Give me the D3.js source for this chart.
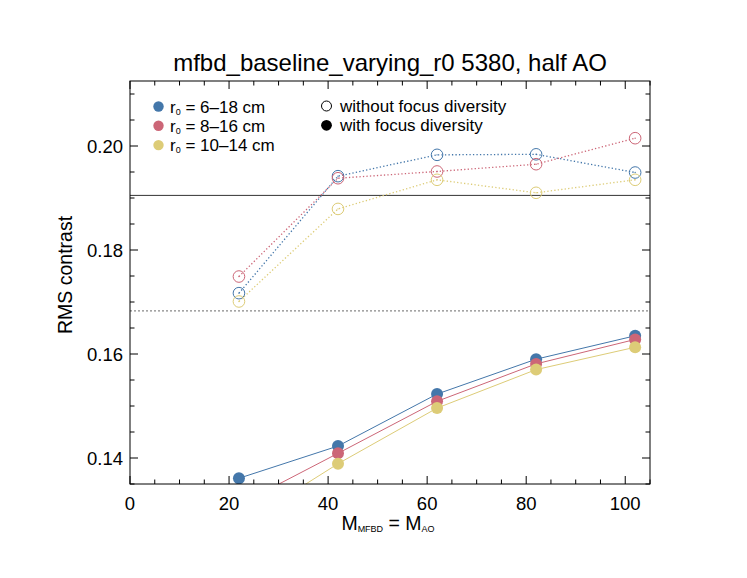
<!DOCTYPE html>
<html><head><meta charset="utf-8">
<script src="https://cdn.jsdelivr.net/npm/d3@7"></script>
<style>body{margin:0;background:#fff}svg{display:block}text{font-family:"Liberation Sans",Arial,sans-serif}</style>
</head><body>
<svg id="c" width="747" height="578"></svg>
<script>
const xValues = [22, 42, 62, 82, 102];
const seriesNames = ["6–18 cm", "8–16 cm", "10–14 cm"];
const seriesColors = ["#4477AA", "#CC6677", "#DDCC77"];
const withoutFD_6_18 = [0.1717, 0.1942, 0.1983, 0.1984, 0.1949];
const withoutFD_8_16 = [0.1749, 0.1938, 0.1951, 0.1965, 0.2015];
const withoutFD_10_14 = [0.1701, 0.1879, 0.1935, 0.1910, 0.1935];
const withFD_6_18 = [0.1361, 0.1423, 0.1523, 0.1590, 0.1635];
const withFD_8_16 = [0.1310, 0.1409, 0.1509, 0.1581, 0.1628];
const withFD_10_14 = [0.1269, 0.1389, 0.1496, 0.1570, 0.1613];
const refSolid = 0.1905;
const refDotted = 0.1683;
const xTicks = [0, 20, 40, 60, 80, 100];
const yTicks = [0.14, 0.16, 0.18, 0.20];

const withoutSeries = [withoutFD_6_18, withoutFD_8_16, withoutFD_10_14];
const withSeries = [withFD_6_18, withFD_8_16, withFD_10_14];

const svg = d3.select("#c");
const L = 130, R = 650, T = 81, B = 484;
const x = d3.scaleLinear().domain([0, 105]).range([L, R]);
const y = d3.scaleLinear().domain([0.135, 0.2125]).range([B, T]);

svg.append("defs").append("clipPath").attr("id", "clip")
  .append("rect").attr("x", L).attr("y", T).attr("width", R - L).attr("height", B - T);

const plot = svg.append("g").attr("clip-path", "url(#clip)");

plot.append("line").attr("x1", L).attr("x2", R).attr("y1", y(refSolid)).attr("y2", y(refSolid))
  .attr("stroke", "#333").attr("stroke-width", 1);
plot.append("line").attr("x1", L).attr("x2", R).attr("y1", y(refDotted)).attr("y2", y(refDotted))
  .attr("stroke", "#888").attr("stroke-width", 1.3).attr("stroke-dasharray", "2,2");

const line = d3.line().x((d, i) => x(xValues[i])).y(d => y(d));

withoutSeries.forEach((s, k) => {
  plot.append("path").attr("d", line(s)).attr("fill", "none")
    .attr("stroke", seriesColors[k]).attr("stroke-width", 1.3).attr("stroke-dasharray", "1.3,2.2");
});
withSeries.forEach((s, k) => {
  plot.append("path").attr("d", line(s)).attr("fill", "none")
    .attr("stroke", seriesColors[k]).attr("stroke-width", 1);
});
withoutSeries.forEach((s, k) => {
  plot.selectAll(null).data(s).enter().append("circle")
    .attr("cx", (d, i) => x(xValues[i])).attr("cy", d => y(d)).attr("r", 5.8)
    .attr("fill", "none").attr("stroke", seriesColors[k]).attr("stroke-width", 1);
  plot.selectAll(null).data(s).enter().append("circle")
    .attr("cx", (d, i) => x(xValues[i])).attr("cy", d => y(d)).attr("r", 0.7)
    .attr("fill", seriesColors[k]);
});
withSeries.forEach((s, k) => {
  plot.selectAll(null).data(s).enter().append("circle")
    .attr("cx", (d, i) => x(xValues[i])).attr("cy", d => y(d)).attr("r", 6)
    .attr("fill", seriesColors[k]);
});

svg.append("rect").attr("x", L).attr("y", T).attr("width", R - L).attr("height", B - T)
  .attr("fill", "none").attr("stroke", "#000").attr("stroke-width", 1);

const xMinor = d3.range(0, 106, 5);
const yMinor = d3.range(0, 16).map(i => +(0.135 + i * 0.005).toFixed(3)).filter(v => v <= 0.2125);
const tk = svg.append("g").attr("stroke", "#000").attr("stroke-width", 1);
xMinor.forEach(v => {
  const len = (v % 20 === 0) ? 8 : 4.5;
  tk.append("line").attr("x1", x(v)).attr("x2", x(v)).attr("y1", B).attr("y2", B - len);
  tk.append("line").attr("x1", x(v)).attr("x2", x(v)).attr("y1", T).attr("y2", T + len);
});
yMinor.forEach(v => {
  const r = Math.round(v * 1000);
  const len = (r % 20 === 0) ? 8 : 4.5;
  tk.append("line").attr("x1", L).attr("x2", L + len).attr("y1", y(v)).attr("y2", y(v));
  tk.append("line").attr("x1", R).attr("x2", R - len).attr("y1", y(v)).attr("y2", y(v));
});

svg.selectAll(null).data(xTicks).enter().append("text")
  .attr("x", d => x(d)).attr("y", 510).attr("text-anchor", "middle")
  .attr("font-size", 18.5).text(d => d);
svg.selectAll(null).data(yTicks).enter().append("text")
  .attr("x", 123).attr("y", d => y(d) + 6.5).attr("text-anchor", "end")
  .attr("font-size", 18.5).text(d => d.toFixed(2));

svg.append("text").attr("x", 390).attr("y", 71).attr("text-anchor", "middle")
  .attr("font-size", 24).text("mfbd_baseline_varying_r0 5380, half AO");

svg.append("text").attr("transform", "translate(72,275) rotate(-90)").attr("text-anchor", "middle")
  .attr("font-size", 19.5).text("RMS contrast");

const xl = svg.append("text").attr("x", 388).attr("y", 530).attr("text-anchor", "middle").attr("font-size", 19.5);
xl.append("tspan").text("M");
xl.append("tspan").attr("font-size", 9).attr("dy", 2).text("MFBD");
xl.append("tspan").attr("dy", -2).text(" = M");
xl.append("tspan").attr("font-size", 9).attr("dy", 2).text("AO");

seriesNames.forEach((n, k) => {
  const yy = 106.5 + k * 19.3;
  svg.append("circle").attr("cx", 158.5).attr("cy", yy).attr("r", 5.2).attr("fill", seriesColors[k]);
  const t = svg.append("text").attr("x", 170).attr("y", yy + 6).attr("font-size", 17);
  t.append("tspan").text("r");
  t.append("tspan").attr("font-size", 9).attr("dy", 2).text("0");
  t.append("tspan").attr("dy", -2).text(" = " + n);
});
const typeLabels = ["without focus diversity", "with focus diversity"];
typeLabels.forEach((n, k) => {
  const yy = 106 + k * 19.3;
  svg.append("circle").attr("cx", 326.5).attr("cy", yy).attr("r", k === 0 ? 5 : 5.4)
    .attr("fill", k === 0 ? "none" : "#000").attr("stroke", "#000").attr("stroke-width", k === 0 ? 1 : 0);
  svg.append("text").attr("x", 340).attr("y", yy + 6).attr("font-size", 17).text(n);
});
</script>
</body></html>
